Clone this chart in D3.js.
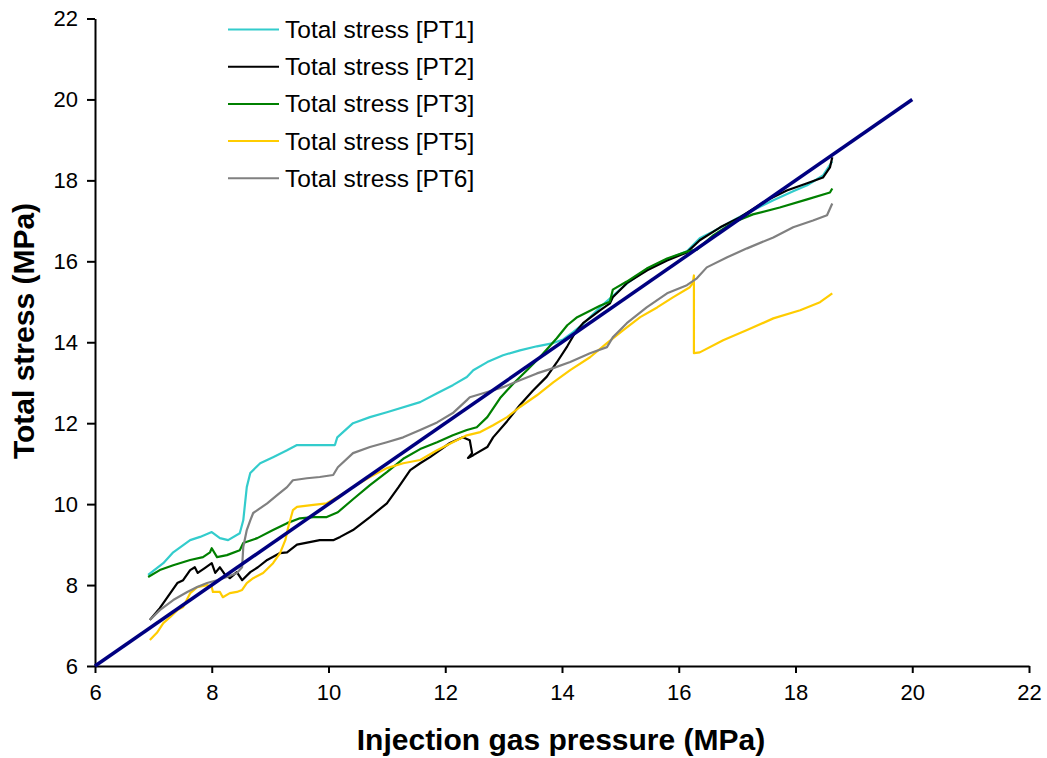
<!DOCTYPE html>
<html>
<head>
<meta charset="utf-8">
<script src="https://cdn.jsdelivr.net/npm/d3@7"></script>
<style>
  html, body { margin: 0; padding: 0; background: #fff; }
  svg { display: block; font-family: "Liberation Sans", Arial, sans-serif; }
</style>
</head>
<body>
<svg id="chart" width="1047" height="758"></svg>
<script>
// Axis ticks
const xTicks = [6, 8, 10, 12, 14, 16, 18, 20, 22];
const yTicks = [6, 8, 10, 12, 14, 16, 18, 20, 22];

// Series: [injection gas pressure (MPa), total stress (MPa)]
const pt1 = [
  [6.91,8.25],[7.17,8.54],[7.34,8.81],[7.63,9.11],[7.80,9.19],[8.00,9.31],[8.14,9.16],[8.28,9.11],
  [8.48,9.28],[8.54,9.60],[8.60,10.42],[8.66,10.77],[8.83,11.01],[9.05,11.16],[9.29,11.33],[9.46,11.46],
  [9.68,11.46],[10.11,11.46],[10.15,11.65],[10.42,12.00],[10.71,12.15],[11.00,12.27],[11.57,12.52],
  [11.86,12.74],[12.13,12.94],[12.37,13.14],[12.48,13.31],[12.72,13.51],[12.99,13.68],[13.28,13.80],
  [13.57,13.90],[13.85,13.98],[14.02,14.07],[14.19,14.25],[14.36,14.45],[14.65,14.86],[15.11,15.45],
  [15.45,15.80],[15.80,16.05],[16.14,16.25],[16.36,16.57],[16.59,16.74],[16.83,16.93],[17.05,17.10],
  [17.27,17.26],[17.62,17.51],[17.96,17.73],[18.20,17.88],[18.47,18.12],[18.63,18.47]
];
const pt2 = [
  [6.94,7.14],[7.11,7.43],[7.29,7.80],[7.41,8.05],[7.51,8.12],[7.63,8.37],[7.71,8.44],[7.76,8.30],
  [7.88,8.42],[8.00,8.54],[8.06,8.30],[8.14,8.44],[8.23,8.25],[8.31,8.17],[8.43,8.32],[8.52,8.12],
  [8.66,8.32],[8.79,8.44],[8.95,8.62],[9.17,8.79],[9.29,8.81],[9.46,9.00],[9.85,9.11],[10.08,9.11],
  [10.20,9.19],[10.42,9.36],[10.71,9.68],[11.00,10.02],[11.20,10.42],[11.40,10.84],[11.57,11.01],
  [11.74,11.16],[12.08,11.51],[12.30,11.65],[12.42,11.58],[12.46,11.26],[12.39,11.14],[12.48,11.21],
  [12.72,11.41],[12.82,11.65],[13.06,12.05],[13.28,12.45],[13.50,12.80],[13.74,13.15],[13.91,13.50],
  [14.09,13.90],[14.19,14.15],[14.26,14.30],[14.36,14.47],[14.65,14.79],[14.82,14.96],[14.87,15.11],
  [15.11,15.46],[15.46,15.78],[15.80,16.02],[16.14,16.22],[16.36,16.52],[16.71,16.84],[17.05,17.09],
  [17.51,17.51],[17.85,17.75],[18.20,17.93],[18.47,18.07],[18.59,18.32],[18.63,18.57]
];
const pt3 = [
  [6.91,8.20],[7.11,8.37],[7.34,8.49],[7.63,8.62],[7.85,8.69],[7.97,8.81],[8.00,8.91],[8.09,8.69],
  [8.26,8.74],[8.48,8.86],[8.54,9.04],[8.78,9.16],[9.05,9.36],[9.29,9.53],[9.51,9.65],[9.74,9.68],
  [9.97,9.68],[10.16,9.80],[10.42,10.12],[10.71,10.47],[11.00,10.79],[11.28,11.12],[11.57,11.36],
  [11.86,11.53],[12.13,11.70],[12.37,11.83],[12.54,11.90],[12.72,12.15],[12.94,12.62],[13.16,12.97],
  [13.40,13.31],[13.62,13.63],[13.91,14.10],[14.09,14.42],[14.26,14.62],[14.43,14.74],[14.65,14.90],
  [14.82,15.00],[14.87,15.30],[15.11,15.50],[15.45,15.82],[15.80,16.07],[16.14,16.24],[16.31,16.29],
  [16.59,16.64],[16.93,16.96],[17.27,17.16],[17.73,17.33],[18.20,17.53],[18.59,17.70],[18.63,17.80]
];
const pt5 = [
  [6.94,6.64],[7.06,6.82],[7.17,7.06],[7.29,7.21],[7.41,7.38],[7.51,7.46],[7.63,7.80],[7.75,7.95],
  [7.92,8.00],[8.00,7.95],[8.02,7.83],[8.14,7.83],[8.19,7.70],[8.31,7.80],[8.43,7.83],[8.52,7.88],
  [8.60,8.05],[8.71,8.17],[8.88,8.30],[9.05,8.54],[9.17,8.79],[9.26,9.11],[9.31,9.43],[9.39,9.85],
  [9.46,9.93],[9.74,9.98],[9.97,10.02],[10.15,10.17],[10.42,10.42],[10.71,10.67],[11.00,10.89],
  [11.28,11.01],[11.57,11.09],[11.86,11.33],[12.13,11.53],[12.37,11.70],[12.60,11.78],[12.82,11.95],
  [13.06,12.15],[13.28,12.40],[13.57,12.69],[13.85,13.01],[14.14,13.31],[14.48,13.63],[14.77,13.98],
  [15.05,14.30],[15.34,14.62],[15.63,14.86],[15.90,15.11],[16.19,15.36],[16.24,15.46],[16.26,15.65],
  [16.26,13.73],[16.36,13.75],[16.76,14.05],[17.17,14.30],[17.62,14.59],[18.08,14.79],[18.42,14.99],
  [18.63,15.21]
];
const pt6 = [
  [6.94,7.14],[7.11,7.38],[7.34,7.63],[7.58,7.83],[7.75,7.95],[7.92,8.05],[8.09,8.12],[8.26,8.20],
  [8.43,8.30],[8.52,8.44],[8.54,8.94],[8.60,9.36],[8.66,9.60],[8.71,9.78],[8.95,10.02],[9.12,10.22],
  [9.29,10.42],[9.39,10.59],[9.63,10.64],[9.85,10.67],[10.08,10.72],[10.16,10.91],[10.42,11.26],
  [10.71,11.41],[11.00,11.53],[11.28,11.65],[11.57,11.83],[11.86,12.02],[12.13,12.25],[12.37,12.57],
  [12.42,12.64],[12.72,12.77],[12.99,12.89],[13.28,13.06],[13.57,13.23],[13.85,13.36],[14.14,13.51],
  [14.48,13.73],[14.77,13.88],[14.87,14.12],[15.11,14.47],[15.45,14.86],[15.80,15.21],[16.14,15.41],
  [16.31,15.58],[16.48,15.85],[16.83,16.10],[17.17,16.32],[17.62,16.59],[17.96,16.84],[18.30,17.01],
  [18.54,17.14],[18.63,17.43]
];
// 1:1 reference line
const unityLine = [[6, 6], [20, 20]];

const seriesNames = ["Total stress [PT1]", "Total stress [PT2]", "Total stress [PT3]", "Total stress [PT5]", "Total stress [PT6]"];
const seriesColors = ["#33CCCC", "#000000", "#008000", "#FFCC00", "#808080"];
const seriesData = [pt1, pt2, pt3, pt5, pt6];

const svg = d3.select("#chart");
const margin = { left: 95, top: 18.5, right: 1029, bottom: 666 };

const x = d3.scaleLinear().domain([6, 22]).range([margin.left, margin.right]);
const y = d3.scaleLinear().domain([6, 22]).range([margin.bottom, margin.top]);

// Axes
const xAxis = d3.axisBottom(x).tickValues(xTicks).tickSize(7).tickSizeOuter(0).tickPadding(11);
const yAxis = d3.axisLeft(y).tickValues(yTicks).tickSize(8).tickSizeOuter(0).tickPadding(9);

const gx = svg.append("g").attr("transform", `translate(0,${margin.bottom})`).call(xAxis);
const gy = svg.append("g").attr("transform", `translate(${margin.left},0)`).call(yAxis);
[gx, gy].forEach(g => {
  g.selectAll("path, line").attr("stroke", "#000").attr("stroke-width", 2);
  g.selectAll("text").attr("font-size", 22).attr("fill", "#000")
    .attr("font-family", "'Liberation Sans', Arial, sans-serif");
});

// Series lines
const line = d3.line().x(d => x(d[0])).y(d => y(d[1]));
seriesData.forEach((data, i) => {
  svg.append("path")
    .datum(data)
    .attr("fill", "none")
    .attr("stroke", seriesColors[i])
    .attr("stroke-width", 2.2)
    .attr("stroke-linejoin", "round")
    .attr("d", line);
});

svg.append("path")
  .datum(unityLine)
  .attr("fill", "none")
  .attr("stroke", "#000080")
  .attr("stroke-width", 3.5)
  .attr("d", line);

// Legend
const legend = svg.append("g");
seriesNames.forEach((name, i) => {
  const ly = 29.5 + i * 37.2;
  legend.append("line")
    .attr("x1", 228).attr("x2", 279).attr("y1", ly).attr("y2", ly)
    .attr("stroke", seriesColors[i]).attr("stroke-width", 2);
  legend.append("text")
    .attr("x", 285).attr("y", ly).attr("dy", "0.35em")
    .attr("font-size", 24.5).attr("fill", "#000")
    .text(name);
});

// Axis titles
svg.append("text")
  .attr("x", 561).attr("y", 750)
  .attr("text-anchor", "middle")
  .attr("font-size", 30).attr("font-weight", "bold")
  .text("Injection gas pressure (MPa)");

svg.append("text")
  .attr("transform", "translate(34,331) rotate(-90)")
  .attr("text-anchor", "middle")
  .attr("font-size", 30).attr("font-weight", "bold")
  .text("Total stress (MPa)");
</script>
</body>
</html>
